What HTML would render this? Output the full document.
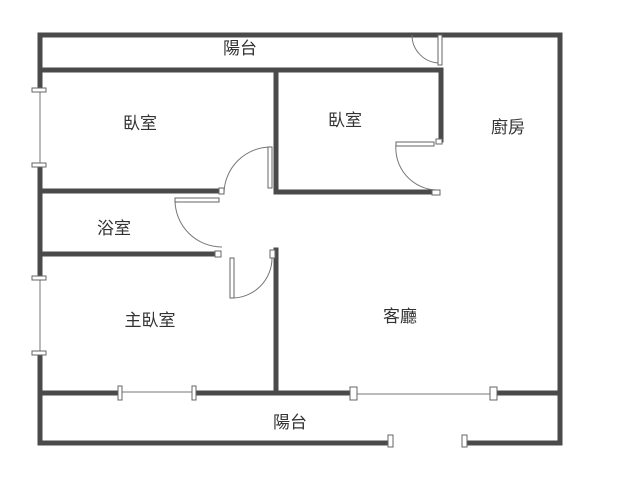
<!DOCTYPE html><html><head><style>body{margin:0;background:#fff}</style></head><body>
<svg width="622" height="480" xmlns="http://www.w3.org/2000/svg" font-family="Liberation Sans, Noto Sans CJK TC, sans-serif">
<g stroke="#4a4a4a" stroke-width="5" fill="none" stroke-linecap="square">
<path d="M40 35H560V443"/>
<path d="M40 35V90M40 165V278M40 353V443H390M468 443H560"/>
<path d="M40 70H441V140"/>
<path d="M276 70V192H432"/>
<path d="M45 191H218"/>
<path d="M40 254H215"/>
<path d="M276 250V393"/>
<path d="M40 393H120M194 393H353M494 393H558"/>
</g>
<g stroke="#777" stroke-width="1" fill="none">
<path d="M40 90V165M40 278V353M120 392H194M353 394H494"/>
<path d="M271 147A47 47 0 0 0 224 193"/>
<path d="M175 200A47 47 0 0 0 222 247"/>
<path d="M232 298A40 40 0 0 0 272 258"/>
<path d="M396 144A42 42 0 0 0 436 190"/>
<path d="M412 35A28 28 0 0 0 440 63"/>
</g>
<g fill="#fff" stroke="#666" stroke-width="1">
<rect x="268" y="147" width="4" height="41"/>
<rect x="175" y="198" width="44" height="4"/>
<rect x="230" y="258" width="4" height="40"/>
<rect x="396" y="142" width="38" height="4"/>
<rect x="438" y="35" width="4" height="30"/>
<rect x="32" y="88" width="14" height="4"/><rect x="32" y="163" width="14" height="4"/>
<rect x="32" y="276" width="14" height="4"/><rect x="32" y="351" width="14" height="4"/>
<rect x="118" y="386" width="4" height="14"/><rect x="192" y="386" width="4" height="14"/>
<rect x="350" y="387" width="7" height="13"/><rect x="490" y="387" width="7" height="13"/>
<rect x="388" y="435" width="5" height="12"/><rect x="462" y="435" width="5" height="12"/>
<rect x="219" y="188" width="5" height="6"/><rect x="215" y="251" width="6" height="6"/>
<rect x="270" y="250" width="5" height="8"/><rect x="432" y="190" width="8" height="5"/>
<rect x="436" y="139" width="6" height="5"/>
</g>
<g fill="#333" font-size="17" text-anchor="middle">
<text x="240" y="54">陽台</text>
<text x="140" y="129">臥室</text>
<text x="345" y="126">臥室</text>
<text x="508" y="133">廚房</text>
<text x="114" y="234">浴室</text>
<text x="150" y="326">主臥室</text>
<text x="400" y="322">客廳</text>
<text x="290" y="428">陽台</text>
</g>
</svg>
</body></html>
